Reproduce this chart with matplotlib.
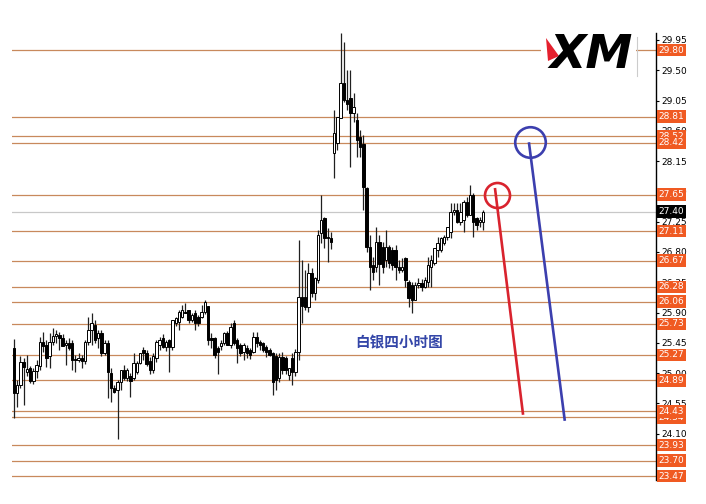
import matplotlib
matplotlib.use('Agg')
import matplotlib.pyplot as plt
import matplotlib.transforms as mtransforms
from matplotlib.patches import Rectangle, Polygon

# silver 4h candles
opens = [25.37, 24.70, 24.82, 25.16, 25.01, 25.07, 24.88, 25.03, 25.10, 25.46,
         25.42, 25.25, 25.46, 25.55, 25.56, 25.52, 25.42, 25.45, 25.45, 25.21,
         25.19, 25.22, 25.18, 25.46, 25.64, 25.71, 25.52, 25.60, 25.30, 25.45,
         25.00, 24.78, 24.75,
         24.87, 25.04, 24.93, 24.95, 24.93, 25.02, 25.15, 25.34, 25.30, 25.18,
         25.05, 25.22, 25.42, 25.52, 25.39, 25.49, 25.39, 25.74, 25.76, 25.83,
         25.91, 25.94, 25.79, 25.89, 25.83, 25.83, 25.91, 26.00, 25.52, 25.52,
         25.37, 25.40, 25.45, 25.60, 25.42, 25.74, 25.49, 25.42, 25.31, 25.37,
         25.34, 25.31, 25.54, 25.46, 25.45, 25.39, 25.34, 25.30, 25.25, 24.93,
         25.24, 25.22, 24.97, 25.22, 25.02, 25.31,
         26.13, 26.13, 25.98, 26.49, 26.19, 26.38, 27.08, 27.30, 27.02, 27.01,
         28.27, 28.42, 28.79, 29.31, 29.06, 29.09, 28.86, 28.76, 28.51, 28.40,
         27.75, 26.87, 26.60, 26.58, 26.95, 26.87, 26.68, 26.87, 26.83, 26.83,
         26.57, 26.53, 26.71, 26.35, 26.31, 26.09, 26.31, 26.34, 26.28, 26.35,
         26.58, 26.64, 26.83, 26.83, 26.93, 27.02, 27.10, 27.39, 27.42,
         27.25, 27.27, 27.54, 27.35, 27.64, 27.30, 27.24, 27.24]
highs = [25.51, 24.90, 25.26, 25.22, 25.27, 25.10, 25.07, 25.19, 25.54, 25.61,
         25.49, 25.59, 25.67, 25.64, 25.61, 25.58, 25.49, 25.52, 25.49, 25.27,
         25.30, 25.27, 25.49, 25.83, 25.89, 25.79, 25.64, 25.64, 25.49, 25.49,
         25.07, 24.82, 24.90,
         25.05, 25.12, 25.07, 25.00, 25.30, 25.18, 25.30, 25.39, 25.35, 25.24,
         25.30, 25.49, 25.54, 25.58, 25.49, 25.50, 25.79, 25.84, 25.94, 26.01,
         26.04, 25.94, 25.90, 25.94, 25.86, 26.01, 26.09, 25.94, 25.60, 25.53,
         25.40, 25.49, 25.61, 25.63, 25.74, 25.79, 25.52, 25.45, 25.45, 25.42,
         25.37, 25.61, 25.61, 25.49, 25.46, 25.42, 25.37, 25.31, 25.30, 25.30,
         25.31, 25.25, 25.07, 25.30, 25.36, 26.98,
         26.68, 26.53, 26.64, 26.56, 26.43, 27.13, 27.64, 27.32, 27.15, 27.10,
         28.91, 28.81, 30.05, 29.92, 29.50, 29.50, 29.16, 28.87, 28.61, 28.54,
         27.76, 27.05, 26.72, 27.17, 27.05, 26.95, 27.13, 26.90, 26.87, 26.90,
         26.68, 26.71, 26.72, 26.38, 26.35, 26.35, 26.41, 26.40, 26.43, 26.72,
         26.75, 26.86, 27.02, 27.02, 27.05, 27.17, 27.53, 27.53, 27.53,
         27.53, 27.57, 27.62, 27.79, 27.67, 27.32, 27.32, 27.42]
lows = [24.33, 24.50, 24.78, 24.52, 24.96, 24.85, 24.84, 24.93, 25.04, 25.31,
        25.09, 25.07, 25.42, 25.45, 25.34, 25.40, 25.12, 25.34, 25.04, 25.01,
        25.16, 25.07, 25.13, 25.42, 25.42, 25.45, 25.37, 25.25, 25.27, 24.63,
        24.57, 24.70, 24.02,
        24.75, 24.90, 24.88, 24.64, 24.90, 24.98, 25.13, 25.20, 25.10, 24.99,
        25.00, 25.16, 25.34, 25.37, 25.33, 25.01, 25.34, 25.70, 25.64, 25.82,
        25.89, 25.74, 25.76, 25.64, 25.70, 25.82, 25.88, 25.42, 25.37, 25.22,
        24.99, 25.34, 25.42, 25.41, 25.37, 25.42, 25.15, 25.25, 25.19, 25.22,
        25.21, 25.30, 25.39, 25.34, 25.31, 25.24, 25.25, 24.67, 24.75, 24.87,
        24.99, 24.99, 24.90, 24.82, 24.96, 25.19,
        25.74, 25.94, 25.91, 26.13, 26.09, 26.34, 26.93, 26.86, 26.65, 26.85,
        27.90, 28.31, 28.79, 29.03, 28.91, 28.06, 28.73, 28.21, 28.21, 27.42,
        26.80, 26.23, 26.38, 26.50, 26.31, 26.49, 26.58, 26.56, 26.53, 26.38,
        26.48, 26.50, 26.28, 25.98, 25.89, 26.13, 26.26, 26.22, 26.26, 26.28,
        26.28, 26.61, 26.73, 26.80, 26.90, 26.98, 27.01, 27.35, 27.23,
        27.20, 27.10, 27.32, 27.35, 27.02, 27.13, 27.17, 27.13]
closes = [24.70, 24.82, 25.16, 25.09, 25.06, 24.88, 25.03, 25.12, 25.46, 25.40,
          25.22, 25.46, 25.55, 25.58, 25.52, 25.40, 25.45, 25.37, 25.19, 25.19,
          25.22, 25.18, 25.46, 25.64, 25.74, 25.49, 25.60, 25.30, 25.45, 25.02,
          24.78, 24.72, 24.87,
          25.04, 24.93, 25.04, 24.88, 25.15, 25.15, 25.30, 25.30, 25.13, 25.05,
          25.25, 25.46, 25.49, 25.39, 25.46, 25.39, 25.79, 25.82, 25.91, 25.94,
          25.90, 25.79, 25.86, 25.74, 25.74, 25.91, 26.05, 25.49, 25.49, 25.27,
          25.31, 25.45, 25.60, 25.42, 25.68, 25.45, 25.37, 25.30, 25.42, 25.30,
          25.27, 25.54, 25.45, 25.42, 25.34, 25.31, 25.27, 24.87, 24.90, 25.24,
          25.05, 25.04, 25.07, 25.02, 25.31, 26.13,
          26.00, 25.98, 26.49, 26.19, 26.41, 27.05, 27.27, 27.01, 27.01, 26.95,
          28.57, 28.81, 29.31, 29.06, 29.00, 28.86, 28.95, 28.46, 28.36, 27.76,
          26.87, 26.57, 26.50, 26.95, 26.62, 26.57, 26.87, 26.64, 26.60, 26.57,
          26.53, 26.57, 26.38, 26.12, 26.09, 26.31, 26.34, 26.28, 26.38, 26.61,
          26.68, 26.86, 26.93, 27.01, 27.02, 27.17, 27.39, 27.42, 27.25,
          27.39, 27.54, 27.35, 27.64, 27.25, 27.20, 27.27, 27.40]

levels = [29.80, 28.81, 28.52, 28.42, 27.65, 27.11, 26.67, 26.28, 26.06,
          25.73, 25.27, 24.89, 24.34, 24.43, 23.93, 23.70, 23.47]
last_price = 27.40
tick_values = [29.95, 29.50, 29.05, 28.60, 28.15, 27.70, 27.25, 26.80,
               26.35, 25.90, 25.45, 25.00, 24.55, 24.10, 23.65]

# hand-drawn targets: circle centre, then the line down from it
red_x = [148.7, 157.4]
red_y = [27.75, 24.38]
red_circle = (149.35, 27.65)
blue_x = [159.2, 170.3]
blue_y = [28.43, 24.29]
blue_circle = (159.55, 28.43)
title_text = '白银四小时图'

line_col = '#c8895c'
label_col = '#f05a22'

fig = plt.figure(figsize=(7.06, 5.04), dpi=100)
ax = fig.add_axes([0.017, 0.0476, 0.9122, 0.8869])
ax.set_xlim(-0.62, 198.5)
ax.set_ylim(23.411, 30.053)

for lv in levels:
    ax.axhline(lv, color=line_col, lw=0.9, zorder=1)
ax.axhline(last_price, color='#c8c8c8', lw=0.9, zorder=1)

x = list(range(len(opens)))
ax.vlines(x, lows, highs, color='#202020', lw=0.9, zorder=2)
bottoms = [min(o, c) for o, c in zip(opens, closes)]
heights = [max(abs(c - o), 0.012) for o, c in zip(opens, closes)]
fcs = ['white' if c >= o else 'black' for o, c in zip(opens, closes)]
ax.bar(x, heights, bottom=bottoms, width=0.75, color=fcs, edgecolor='black',
       linewidth=0.7, zorder=3)

ax.plot(red_x, red_y, color='#d9232e', lw=1.9, zorder=4, solid_capstyle='butt')
ax.plot(*red_circle, 'o', ms=18, mfc='none', mec='#d9232e', mew=1.9, zorder=4)
ax.plot(blue_x, blue_y, color='#3c3fae', lw=1.9, zorder=4, solid_capstyle='butt')
ax.plot(*blue_circle, 'o', ms=22, mfc='none', mec='#3c3fae', mew=1.9, zorder=4)

ax.text(105.4, 25.46, title_text, family=['Noto Sans CJK SC', 'DejaVu Sans'],
        fontsize=10.5, fontweight='bold', color='#3446a8', va='center', zorder=5)

ax.yaxis.tick_right()
ax.set_yticks(tick_values)
ax.set_yticklabels(['%.2f' % t for t in tick_values])
ax.tick_params(axis='y', length=2.2, width=0.8, pad=2, labelsize=6.5, colors='black')
ax.set_xticks([])
for s in ['left', 'top', 'bottom']:
    ax.spines[s].set_visible(False)
ax.spines['right'].set_linewidth(1.0)

trans = mtransforms.blended_transform_factory(ax.transAxes, ax.transData)
for lv in levels:
    ax.text(1.004, lv, '%.2f' % lv, transform=trans, ha='left', va='center',
            fontsize=6.5, color='white', zorder=6, clip_on=False,
            bbox=dict(boxstyle='square,pad=0.2', fc=label_col, ec='none'))
ax.text(1.004, last_price, '%.2f' % last_price, transform=trans, ha='left',
        va='center', fontsize=6.5, color='white', zorder=6, clip_on=False,
        bbox=dict(boxstyle='square,pad=0.2', fc='black', ec='none'))

# XM logo in the top right corner
W, H = 706.0, 504.0
fig.patches.append(Rectangle((541 / W, 1 - 77 / H), 95 / W, 42 / H, fc='white',
                             ec='none', transform=fig.transFigure, zorder=10))
fig.patches.append(Polygon([(546 / W, 1 - 38 / H), (559 / W, 1 - 56 / H),
                            (548 / W, 1 - 61 / H)], closed=True, fc='#e5202e',
                           ec='none', transform=fig.transFigure, zorder=11))
fig.text(549 / W, 1 - 56 / H, 'XM', ha='left', va='center', fontsize=34,
         fontweight='heavy', style='italic', family='DejaVu Sans', color='black',
         zorder=12)
fig.add_artist(plt.Line2D([637 / W, 637 / W], [1 - 37 / H, 1 - 76 / H],
                          color='#cccccc', lw=0.8, transform=fig.transFigure))

fig.savefig('out.png', dpi=100)
